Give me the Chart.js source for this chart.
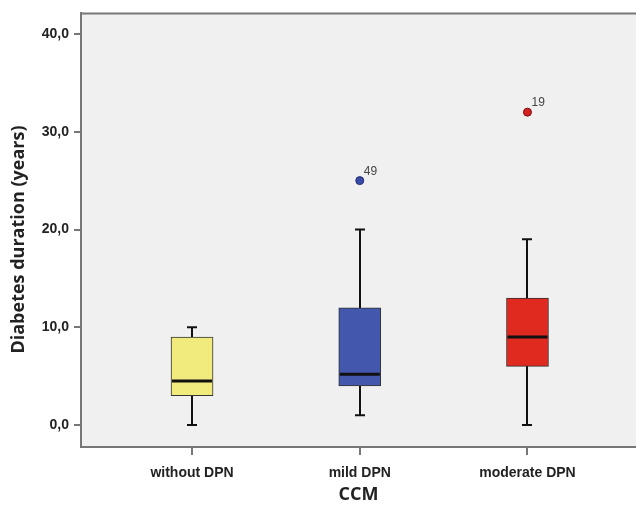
<!DOCTYPE html>
<html>
<head>
<meta charset="utf-8">
<title>Diabetes duration by CCM</title>
<script src="https://cdn.jsdelivr.net/npm/chart.js@4/dist/chart.umd.min.js"></script>
<style>
  html, body { margin: 0; padding: 0; background: #fff; }
  #wrap { width: 636px; height: 507px; }
</style>
</head>
<body>
<div id="wrap"><canvas id="ccm-chart" width="636" height="507"></canvas></div>
<script>
// groups on the x axis
const categories = ['without DPN', 'mild DPN', 'moderate DPN'];
// box plot summary per group (years)
const whiskerLow  = [0, 1, 0];
const q1          = [3, 4, 6];
const median      = [4.5, 5.2, 9];
const q3          = [9, 12, 13];
const whiskerHigh = [10, 20, 19];
// single outliers per group and their case numbers
const outlierValues = [null, 25, 32];
const outlierCases  = [null, '49', '19'];
const yTicks = [0, 10, 20, 30, 40];

const boxColors     = ['#f1ea7c', '#4357ad', '#e0291f'];
const outlierColors = ['#f1ea7c', '#3a4aa8', '#d42020'];
const outlierBorder = ['#555', '#22306e', '#7a0e0e'];

const axisGray = '#777';
const textDark = '#222';

// plot background and the top frame line
const frame = {
    id: 'frame',
    beforeDraw(chart) {
        const {ctx, chartArea: a} = chart;
        ctx.save();
        ctx.fillStyle = '#f0f0f0';
        ctx.fillRect(a.left, a.top, a.right - a.left, a.bottom - a.top);
        ctx.strokeStyle = axisGray;
        ctx.lineWidth = 2;
        ctx.beginPath();
        ctx.moveTo(a.left, a.top);
        ctx.lineTo(a.right, a.top);
        ctx.stroke();
        ctx.restore();
    }
};

// whiskers behind the boxes, medians and outlier labels on top
const boxParts = {
    id: 'boxParts',
    beforeDatasetsDraw(chart) {
        const {ctx, scales: {x, y}} = chart;
        ctx.save();
        ctx.strokeStyle = '#111';
        ctx.lineWidth = 2;
        categories.forEach((c, i) => {
            const px = Math.round(x.getPixelForValue(i + 1));
            const yLo = y.getPixelForValue(whiskerLow[i]);
            const yHi = y.getPixelForValue(whiskerHigh[i]);
            ctx.beginPath();
            ctx.moveTo(px, yLo);
            ctx.lineTo(px, yHi);
            ctx.moveTo(px - 5, yLo);
            ctx.lineTo(px + 5, yLo);
            ctx.moveTo(px - 5, yHi);
            ctx.lineTo(px + 5, yHi);
            ctx.stroke();
        });
        ctx.restore();
    },
    afterDatasetsDraw(chart) {
        const {ctx, scales: {x, y}} = chart;
        const bars = chart.getDatasetMeta(0).data;
        ctx.save();
        ctx.strokeStyle = '#111';
        ctx.lineWidth = 3;
        categories.forEach((c, i) => {
            const bar = bars[i];
            const half = bar.width / 2;
            const py = y.getPixelForValue(median[i]);
            ctx.beginPath();
            ctx.moveTo(bar.x - half + 1, py);
            ctx.lineTo(bar.x + half - 1, py);
            ctx.stroke();
        });
        ctx.fillStyle = '#444';
        ctx.font = '12px "Liberation Sans", Arial, sans-serif';
        ctx.textBaseline = 'alphabetic';
        ctx.textAlign = 'left';
        categories.forEach((c, i) => {
            if (outlierValues[i] === null) return;
            const px = x.getPixelForValue(i + 1);
            const py = y.getPixelForValue(outlierValues[i]);
            ctx.fillText(outlierCases[i], px + 4, py - 6);
        });
        ctx.restore();
    }
};

const boxData = categories.map((c, i) => ({x: i + 1, y: [q1[i], q3[i]]}));
const outlierData = [];
const outlierFill = [];
const outlierLine = [];
categories.forEach((c, i) => {
    if (outlierValues[i] === null) return;
    outlierData.push({x: i + 1, y: outlierValues[i]});
    outlierFill.push(outlierColors[i]);
    outlierLine.push(outlierBorder[i]);
});

const tickFont = {family: '"Liberation Sans", Arial, sans-serif', size: 14, weight: 'bold'};
const titleFont = {family: '"Open Sans", "Noto Sans", sans-serif', size: 18, weight: 'bold'};

new Chart(document.getElementById('ccm-chart').getContext('2d'), {
    data: {
        datasets: [{
            type: 'bar',
            data: boxData,
            backgroundColor: boxColors,
            borderColor: '#333',
            borderWidth: 1,
            borderSkipped: false,
            barThickness: 42
        }, {
            type: 'scatter',
            data: outlierData,
            pointRadius: 4,
            pointHoverRadius: 4,
            pointBackgroundColor: outlierFill,
            pointBorderColor: outlierLine,
            pointBorderWidth: 1
        }]
    },
    options: {
        responsive: false,
        animation: false,
        layout: {autoPadding: false, padding: {top: 12, right: 0, bottom: 0, left: 0}},
        plugins: {
            legend: {display: false},
            tooltip: {enabled: false}
        },
        scales: {
            x: {
                type: 'linear',
                offset: false,
                min: 0.338,
                max: 3.647,
                afterBuildTicks: s => { s.ticks = categories.map((c, i) => ({value: i + 1})); },
                afterFit: s => { s.height = 60; s.paddingRight = 0; },
                ticks: {
                    autoSkip: false,
                    maxRotation: 0,
                    padding: 10,
                    color: textDark,
                    font: tickFont,
                    callback: v => categories[v - 1]
                },
                grid: {offset: false, drawOnChartArea: false, tickLength: 8, color: axisGray, lineWidth: 2},
                border: {color: axisGray, width: 2},
                title: {display: true, text: 'CCM', color: textDark, font: titleFont, padding: {top: 0, bottom: 1}}
            },
            y: {
                type: 'linear',
                min: -2.24,
                max: 42.1,
                afterBuildTicks: s => { s.ticks = yTicks.map(v => ({value: v})); },
                afterFit: s => { s.width = 81; },
                ticks: {
                    padding: 5,
                    color: textDark,
                    font: tickFont,
                    callback: v => v.toFixed(1).replace('.', ',')
                },
                grid: {drawOnChartArea: false, tickLength: 7, color: axisGray, lineWidth: 2},
                border: {color: axisGray, width: 2},
                // trailing spaces nudge the rotated title down along the axis
                title: {display: true, text: 'Diabetes duration (years)    ', color: textDark, font: titleFont, padding: {top: 8, bottom: 0}}
            }
        }
    },
    plugins: [frame, boxParts]
});
</script>
</body>
</html>
